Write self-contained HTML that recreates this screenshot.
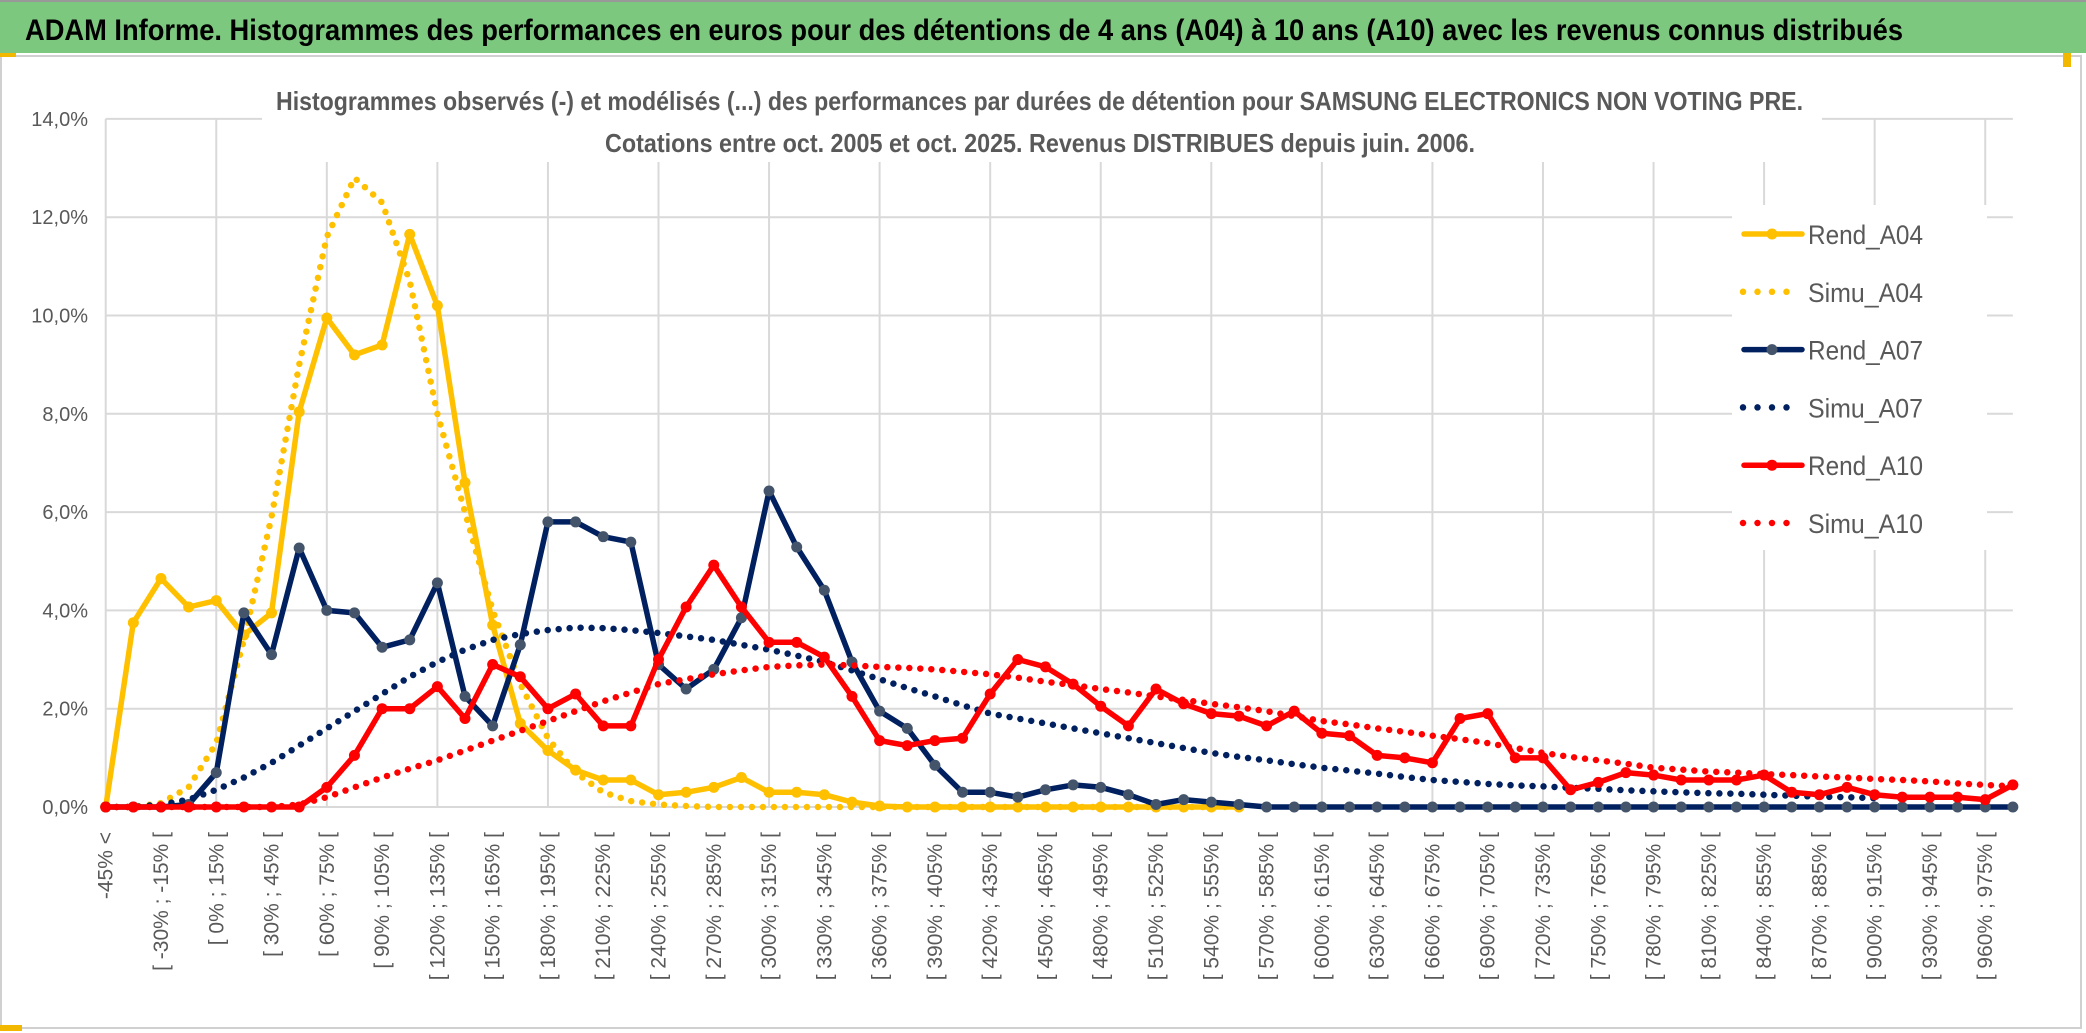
<!DOCTYPE html>
<html><head><meta charset="utf-8"><style>
html,body{margin:0;padding:0;background:#fff;width:2086px;height:1033px;overflow:hidden}
svg{display:block;font-family:"Liberation Sans",sans-serif}
</style></head><body>
<svg id="chart" width="2086" height="1033" viewBox="0 0 2086 1033" xmlns="http://www.w3.org/2000/svg">
<rect x="0" y="0" width="2086" height="1033" fill="#fff"/>
<rect x="0" y="2" width="2086" height="51" fill="#7DC87F"/>
<line x1="0" y1="1" x2="2086" y2="1" stroke="#999" stroke-width="2"/>
<text x="25" y="40" font-size="30" font-weight="bold" fill="#000" textLength="1878" lengthAdjust="spacingAndGlyphs">ADAM Informe. Histogrammes des performances en euros pour des détentions de 4 ans (A04) à 10 ans (A10) avec les revenus connus distribués</text>
<rect x="1" y="56" width="2080" height="972" fill="none" stroke="#d0d0d0" stroke-width="2"/>
<rect x="0" y="53" width="16" height="4" fill="#F2B800"/>
<rect x="2063" y="53" width="8" height="14" fill="#F2B800"/>
<rect x="0" y="1025" width="22" height="6" fill="#F2B800"/>
<g id="grid"></g>
<g id="yticks"></g>
<g id="xticks"></g>
<rect x="262" y="70" width="1560" height="92" fill="#fff"/>
<text x="276" y="110" font-size="26" font-weight="bold" fill="#595959" textLength="1527" lengthAdjust="spacingAndGlyphs">Histogrammes observés (-) et modélisés (...) des performances par durées de détention pour SAMSUNG ELECTRONICS NON VOTING PRE.</text>
<text x="605" y="152" font-size="26" font-weight="bold" fill="#595959" textLength="870" lengthAdjust="spacingAndGlyphs">Cotations entre oct. 2005 et oct. 2025. Revenus DISTRIBUES depuis juin. 2006.</text>
<g id="series"></g>
<rect x="1732" y="205" width="255" height="345" fill="#fff"/>
<g id="legend"></g>
</svg>
<script>
const categories = [];
for (let k = 0; k < 70; k++) {
  categories.push(k === 0 ? "-45% <" : "[ " + (-45 + (k - 1) * 15) + "% ; " + (-30 + (k - 1) * 15) + "% [");
}
const yTicks = [0, 2, 4, 6, 8, 10, 12, 14];
const yTickLabels = ["0,0%", "2,0%", "4,0%", "6,0%", "8,0%", "10,0%", "12,0%", "14,0%"];
const rendA04 = [0,3.75,4.65,4.07,4.2,3.5,3.95,8.04,9.95,9.2,9.4,11.65,10.2,6.6,3.7,1.7,1.15,0.75,0.55,0.55,0.25,0.3,0.4,0.6,0.3,0.3,0.25,0.1,0.02,0,0,0,0,0,0,0,0,0,0,0,0,0];
const simuA04 = [0,0,0.08,0.4,1.3,3.4,5.9,9.0,11.6,12.8,12.3,10.7,8.0,6.0,4.0,2.5,1.4,0.7,0.3,0.12,0.05,0.02,0,0,0,0,0,0,0,0,0,0,0,0,0,0,0,0,0,0,0,0];
const rendA07 = [0,0,0,0.05,0.7,3.95,3.1,5.27,4.0,3.95,3.25,3.4,4.56,2.25,1.65,3.3,5.8,5.8,5.5,5.39,2.9,2.4,2.8,3.85,6.43,5.29,4.41,2.95,1.95,1.6,0.85,0.3,0.3,0.2,0.35,0.45,0.4,0.25,0.05,0.15,0.1,0.05,0,0,0,0,0,0,0,0,0,0,0,0,0,0,0,0,0,0,0,0,0,0,0,0,0,0,0,0];
const simuA07 = [0,0,0.05,0.15,0.35,0.6,0.9,1.25,1.6,1.95,2.3,2.65,2.95,3.2,3.4,3.52,3.6,3.65,3.64,3.6,3.54,3.47,3.4,3.3,3.2,3.08,2.95,2.78,2.6,2.42,2.25,2.07,1.9,1.8,1.7,1.6,1.5,1.4,1.3,1.2,1.1,1.02,0.95,0.87,0.8,0.74,0.68,0.61,0.55,0.51,0.47,0.44,0.42,0.39,0.37,0.34,0.32,0.3,0.28,0.27,0.25,0.23,0.21,0.2,0.18];
const rendA10 = [0,0,0,0,0,0,0,0,0.4,1.05,2.0,2.0,2.45,1.8,2.9,2.65,2.0,2.3,1.65,1.65,3.0,4.07,4.92,4.07,3.35,3.35,3.05,2.25,1.35,1.25,1.35,1.4,2.3,3.0,2.85,2.5,2.05,1.65,2.4,2.1,1.9,1.85,1.65,1.95,1.5,1.45,1.05,1.0,0.9,1.8,1.9,1.0,1.0,0.35,0.5,0.7,0.65,0.55,0.55,0.55,0.65,0.3,0.25,0.4,0.25,0.2,0.2,0.2,0.15,0.45];
const simuA10 = [0,0,0,0,0,0,0,0.05,0.2,0.4,0.6,0.78,0.95,1.15,1.35,1.55,1.75,1.95,2.15,2.33,2.5,2.6,2.7,2.78,2.85,2.88,2.9,2.88,2.85,2.83,2.8,2.75,2.7,2.63,2.55,2.48,2.4,2.33,2.25,2.18,2.1,2.03,1.95,1.85,1.75,1.68,1.6,1.53,1.45,1.38,1.3,1.2,1.1,1.02,0.95,0.88,0.8,0.76,0.72,0.7,0.67,0.65,0.62,0.6,0.57,0.55,0.52,0.48,0.45,0.42];

const NS = "http://www.w3.org/2000/svg";
const X0 = 105.7, DX = 27.64, Y0 = 807, DY = 49.15;
function xPos(i) { return X0 + DX * i; }
function yPos(v) { return Y0 - DY * v; }
function mk(tag, attrs, parent) {
  const e = document.createElementNS(NS, tag);
  for (const k in attrs) e.setAttribute(k, attrs[k]);
  parent.appendChild(e);
  return e;
}
const grid = document.getElementById("grid");
const xRight = xPos(categories.length - 1);
yTicks.forEach(function (t) {
  const l = mk("line", {x1: xPos(0), x2: xRight, y1: yPos(t), y2: yPos(t), stroke: "#d9d9d9", "stroke-width": 2}, grid);
  
  
});
for (let i = 0; i < categories.length; i += 4) {
  const l = mk("line", {x1: xPos(i), x2: xPos(i), y1: yPos(14), y2: yPos(0), stroke: "#d9d9d9", "stroke-width": 2}, grid);
  
  
}
const yt = document.getElementById("yticks");
yTicks.forEach(function (t, k) {
  const tx = mk("text", {x: 88, y: yPos(t) + 7, "text-anchor": "end", "font-size": 20, fill: "#595959"}, yt);
  tx.textContent = yTickLabels[k];
  
  
});
const xt = document.getElementById("xticks");
for (let i = 0; i < categories.length; i += 2) {
  const x = xPos(i) + 7, y = 832;
  const tx = mk("text", {x: x, y: y, "text-anchor": "end", "font-size": 21, fill: "#595959", transform: "rotate(-90 " + x + " " + y + ")"}, xt);
  tx.textContent = categories[i];
  
  
}
const sg = document.getElementById("series");
function drawSeries(vals, color, dotted, markerColor, name) {
  const pts = vals.map(function (v, i) { return xPos(i).toFixed(1) + "," + yPos(v).toFixed(1); }).join(" ");
  const g = mk("g", {}, sg);
  
  
  if (dotted) {
    mk("polyline", {points: pts, fill: "none", stroke: color, "stroke-width": 6.5, "stroke-linecap": "round", "stroke-dasharray": "0 11", "stroke-linejoin": "round"}, g);
  } else {
    mk("polyline", {points: pts, fill: "none", stroke: color, "stroke-width": 5.5, "stroke-linejoin": "round"}, g);
    vals.forEach(function (v, i) {
      const c = mk("circle", {cx: xPos(i), cy: yPos(v), r: 5.5, fill: markerColor}, g);
      
      
    });
  }
}
drawSeries(rendA04, "#FFC000", false, "#FFC000", "rend-a04-line");
drawSeries(simuA04, "#FFC000", true, null, "simu-a04-line");
drawSeries(rendA07, "#002060", false, "#44546A", "rend-a07-line");
drawSeries(simuA07, "#002060", true, null, "simu-a07-line");
drawSeries(rendA10, "#FF0000", false, "#FF0000", "rend-a10-line");
drawSeries(simuA10, "#FF0000", true, null, "simu-a10-line");

const legendNames = ["Rend_A04", "Simu_A04", "Rend_A07", "Simu_A07", "Rend_A10", "Simu_A10"];
const legendColors = ["#FFC000", "#FFC000", "#002060", "#002060", "#FF0000", "#FF0000"];
const lg = document.getElementById("legend");
legendNames.forEach(function (n, k) {
  const y = 234 + k * 57.8;
  const g = mk("g", {}, lg);
  
  
  if (k % 2 === 0) {
    mk("line", {x1: 1744, x2: 1802, y1: y, y2: y, stroke: legendColors[k], "stroke-width": 5.5, "stroke-linecap": "round"}, g);
    mk("circle", {cx: 1772, cy: y, r: 5.5, fill: k === 2 ? "#44546A" : legendColors[k]}, g);
  } else {
    mk("line", {x1: 1743, x2: 1792, y1: y, y2: y, stroke: legendColors[k], "stroke-width": 6.5, "stroke-linecap": "round", "stroke-dasharray": "0 14.5"}, g);
  }
  const tx = mk("text", {x: 1808, y: y + 10, "font-size": 27, fill: "#595959", textLength: 115, lengthAdjust: "spacingAndGlyphs"}, g);
  tx.textContent = n;
});
</script>
</body></html>
